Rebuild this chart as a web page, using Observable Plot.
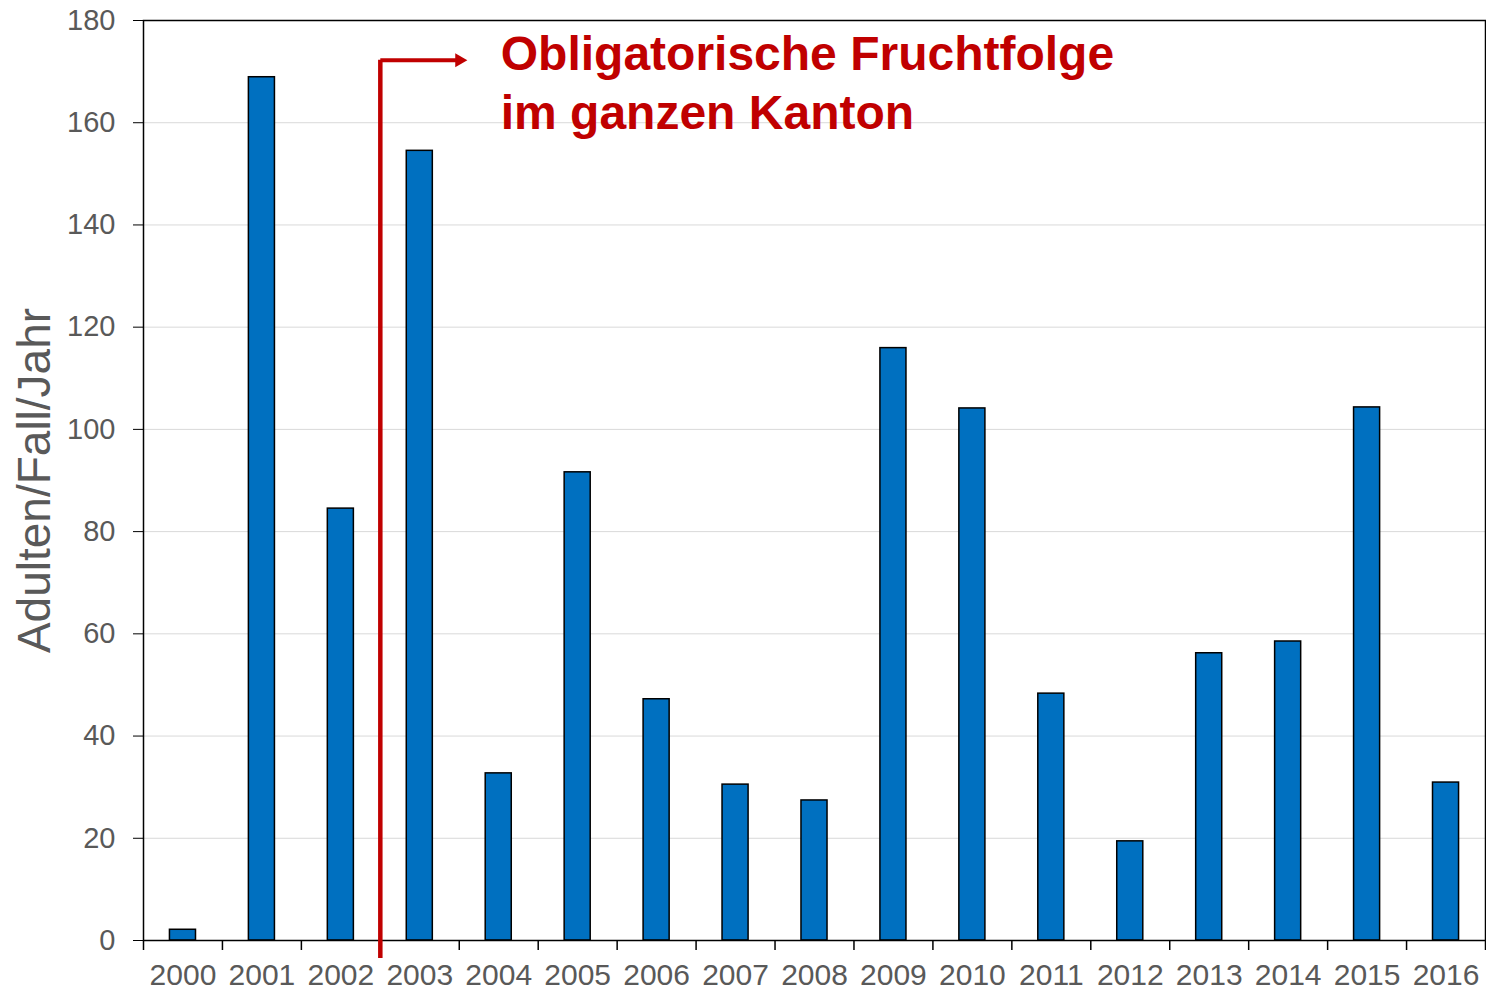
<!DOCTYPE html>
<html>
<head>
<meta charset="utf-8">
<script src="https://cdn.jsdelivr.net/npm/d3@7"></script>
<script src="https://cdn.jsdelivr.net/npm/@observablehq/plot@0.6"></script>
<style>
  html, body { margin: 0; padding: 0; background: #fff; }
  #chart svg { display: block; }
</style>
</head>
<body>
<div id="chart"></div>
<script>
// ---- data ----
const years = ["2000","2001","2002","2003","2004","2005","2006","2007","2008","2009","2010","2011","2012","2013","2014","2015","2016"];
const values = [2.1, 168.9, 84.5, 154.5, 32.7, 91.6, 47.2, 30.5, 27.4, 115.9, 104.1, 48.3, 19.4, 56.2, 58.5, 104.3, 30.9];
const yTicks = [0, 20, 40, 60, 80, 100, 120, 140, 160, 180];
const yLabel = "Adulten/Fall/Jahr";
const annotationLines = ["Obligatorische Fruchtfolge", "im ganzen Kanton"];
const markerYear = "2003";       // rule drawn at the start of 2003
const markerTop = 172.2;         // y value where the elbow arrow turns
const markerBottom = -3.5;       // rule extends slightly below the axis

const data = years.map((year, i) => ({year, value: values[i]}));

// ---- layout ----
const W = 1486, H = 988;
const mL = 143, mR = 1, mT = 20, mB = 48;
const step = (W - mL - mR) / years.length;
const font = "'Liberation Sans', Arial, sans-serif";
const grey = "#595959";
const red = "#c00000";

const prevYear = years[years.indexOf(markerYear) - 1];

const chart = Plot.plot({
  width: W,
  height: H,
  marginLeft: mL,
  marginRight: mR,
  marginTop: mT,
  marginBottom: mB,
  style: {fontFamily: font, background: "#fff", overflow: "visible"},
  x: {domain: years, paddingInner: 0.67, paddingOuter: 0.335, align: 0.5, round: false, label: null},
  y: {domain: [0, 180], label: null},
  marks: [
    Plot.gridY(yTicks.filter(t => t > 0 && t < 180), {stroke: "#d9d9d9", strokeOpacity: 1, strokeWidth: 1}),
    Plot.barY(data, {x: "year", y: "value", fill: "#0070c0", stroke: "#000", strokeWidth: 1.5}),
    Plot.frame({stroke: "#000", strokeWidth: 1.5}),
    // y axis
    Plot.axisY({ticks: yTicks, tickSize: 10, tickPadding: 18, fontSize: 29, color: grey, stroke: "#000", label: null}),
    // x axis: boundary ticks
    Plot.axisX({tickSize: 10, text: null, dx: -step / 2, stroke: "#000", strokeWidth: 1.5, label: null}),
    Plot.axisX({ticks: [years[years.length - 1]], tickSize: 10, text: null, dx: step / 2, stroke: "#000", strokeWidth: 1.5, label: null}),
    // x axis: labels at band centers
    Plot.axisX({tickSize: 0, tickPadding: 23, fontSize: 30, color: grey, label: null}),
    // y axis title
    Plot.text([yLabel], {frameAnchor: "left", dx: -108, rotate: -90, text: d => d, fontSize: 46, fill: grey, textAnchor: "middle", lineAnchor: "middle"}),
    // annotation: vertical rule + elbow arrow
    Plot.ruleX([markerYear], {x: d => d, dx: -step / 2, y1: markerBottom, y2: markerTop, stroke: red, strokeWidth: 4.5, strokeLinecap: "butt"}),
    Plot.link([markerYear], {x1: () => prevYear, x2: d => d, dx: step / 2, y1: markerTop, y2: markerTop, stroke: red, strokeWidth: 4}),
    Plot.dot([markerYear], {x: d => d, y: markerTop, dx: step / 2, symbol: "triangle", rotate: 90, r: 5.2, fill: red, stroke: "none"}),
    Plot.text([annotationLines.join("\n")], {x: () => "2004", y: 178.3, dx: 2, text: d => d, textAnchor: "start", lineAnchor: "top", lineHeight: 1.21, fontSize: 48, fontWeight: "bold", fill: red})
  ]
});

document.getElementById("chart").appendChild(chart);
</script>
</body>
</html>
